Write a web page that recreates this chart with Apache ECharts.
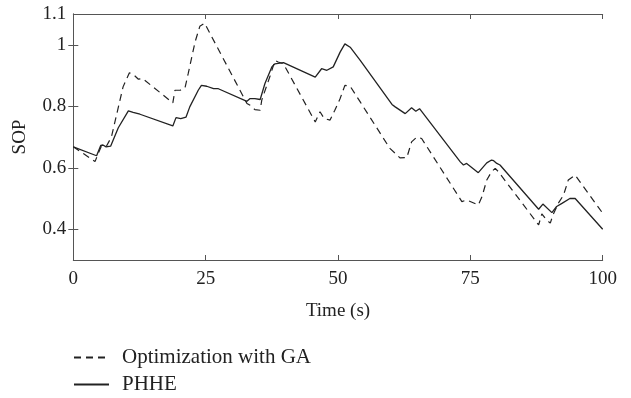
<!DOCTYPE html>
<html>
<head>
<meta charset="utf-8">
<script src="https://cdn.jsdelivr.net/npm/echarts@6/dist/echarts.min.js"></script>
<style>html,body{margin:0;padding:0;background:#fff}#c{width:631px;height:398px}</style>
</head>
<body>
<div id="c"></div>
<script>
var gaTime = [0,1.9,4.1,4.7,5.3,6.2,7.2,9.4,10.6,11.3,12.3,13.1,18.8,19.2,20.2,21.1,21.7,23.0,23.9,24.8,32.8,33.4,34.3,35.3,35.6,37.2,38.1,38.7,39.7,45.7,46.6,47.4,48.5,49.4,50.4,51.3,52.3,54.2,59.8,60.8,61.7,63.0,63.9,64.9,65.8,73.4,74.3,76.5,77.2,78.1,79.0,79.7,80.3,87.9,88.5,89.4,90.1,90.6,91.6,92.6,93.5,94.8,100];
var gaSop = [0.668,0.646,0.62,0.646,0.67,0.668,0.70,0.863,0.909,0.904,0.888,0.89,0.811,0.852,0.852,0.86,0.906,1.009,1.06,1.07,0.809,0.803,0.789,0.787,0.82,0.9,0.949,0.944,0.938,0.749,0.782,0.76,0.755,0.787,0.825,0.868,0.865,0.814,0.663,0.647,0.632,0.633,0.684,0.70,0.695,0.49,0.495,0.479,0.506,0.56,0.587,0.598,0.587,0.414,0.45,0.43,0.42,0.446,0.484,0.511,0.56,0.576,0.452];
var phheTime = [0,4.4,5.2,5.6,6.2,7.05,8.5,10.4,11.3,12.6,18.8,19.4,20.3,21.3,22.0,23.6,24.2,25.2,26.5,27.4,32.8,33.4,34.3,35.3,36.2,37.5,38.1,39.0,39.7,45.7,46.9,47.9,49.1,50.4,51.3,52.3,54.2,60.2,60.8,62.7,63.9,64.7,65.4,73.1,73.7,74.3,76.5,78.1,79.0,79.4,80.0,80.6,87.9,88.7,90.4,91.3,92.3,93.8,94.8,100];
var phheSop = [0.668,0.639,0.673,0.674,0.668,0.67,0.73,0.785,0.78,0.774,0.736,0.763,0.76,0.765,0.798,0.852,0.868,0.865,0.857,0.857,0.816,0.825,0.825,0.822,0.874,0.928,0.938,0.94,0.942,0.895,0.922,0.917,0.928,0.976,1.003,0.992,0.949,0.806,0.798,0.776,0.795,0.784,0.792,0.619,0.609,0.614,0.584,0.616,0.625,0.623,0.614,0.609,0.465,0.482,0.454,0.474,0.484,0.50,0.50,0.40];
var xTicks = [0,25,50,75,100];
var yTickLabels = [0.4,0.6,0.8,1,1.1];
var yTicks = [0.4,0.6,0.8,1];

function pairs(t, v){ return t.map(function(x,i){ return [x, v[i]]; }); }

var font = "'Liberation Serif', 'DejaVu Serif', serif";
var axisCol = '#555';
var chart = echarts.init(document.getElementById('c'), null, {renderer:'canvas'});
chart.setOption({
  animation:false,
  backgroundColor:'#fff',
  textStyle:{fontFamily:font},
  grid:{left:73.3, right:28.3, top:14, bottom:138, containLabel:false},
  legend:{
    orient:'vertical', left:73, top:344, padding:0, itemWidth:35, itemHeight:14, itemGap:0,
    itemStyle:{opacity:0},
    textStyle:{fontFamily:font, fontSize:21, lineHeight:27, color:'#222', padding:[0,0,0,8]},
    data:['Optimization with GA','PHHE']
  },
  xAxis:[{
    type:'value', min:0, max:100, interval:25,
    name:'Time (s)', nameLocation:'middle', nameGap:42,
    nameTextStyle:{fontFamily:font, fontSize:19, color:'#222'},
    axisLine:{show:true, lineStyle:{color:axisCol, width:1}},
    axisTick:{show:true, inside:true, length:5, lineStyle:{color:axisCol}},
    axisLabel:{fontFamily:font, fontSize:19, color:'#222', margin:10},
    splitLine:{show:false}
  },{
    type:'value', min:0, max:100, interval:25, position:'top',
    axisLine:{show:true, lineStyle:{color:axisCol, width:1}},
    axisTick:{show:true, inside:true, length:5, lineStyle:{color:axisCol}},
    axisLabel:{show:false}, splitLine:{show:false}
  }],
  yAxis:[{
    type:'value', min:0.3, max:1.1,
    name:'SOP', nameLocation:'middle', nameGap:44, nameRotate:90,
    nameTextStyle:{fontFamily:font, fontSize:19, color:'#222'},
    axisLine:{show:true, lineStyle:{color:axisCol, width:1}},
    axisTick:{show:true, inside:true, length:5, lineStyle:{color:axisCol}, customValues:yTicks},
    axisLabel:{fontFamily:font, fontSize:19, color:'#222', margin:7, customValues:yTickLabels,
      formatter:function(v){ return String(Math.round(v*10)/10); }},
    splitLine:{show:false}
  },{
    type:'value', min:0.3, max:1.1, position:'right',
    axisLine:{show:true, lineStyle:{color:axisCol, width:1}},
    axisTick:{show:true, inside:true, length:5, lineStyle:{color:axisCol}, customValues:yTicks},
    axisLabel:{show:false}, splitLine:{show:false}
  }],
  series:[{
    name:'Optimization with GA', type:'line', symbol:'none', smooth:false,
    data:pairs(gaTime, gaSop),
    lineStyle:{color:'#222', width:1.2, type:[7,5]},
    itemStyle:{color:'#222'}
  },{
    name:'PHHE', type:'line', symbol:'none', smooth:false,
    data:pairs(phheTime, phheSop),
    lineStyle:{color:'#222', width:1.3, type:'solid'},
    itemStyle:{color:'#222'}
  }]
});
</script>
</body>
</html>
